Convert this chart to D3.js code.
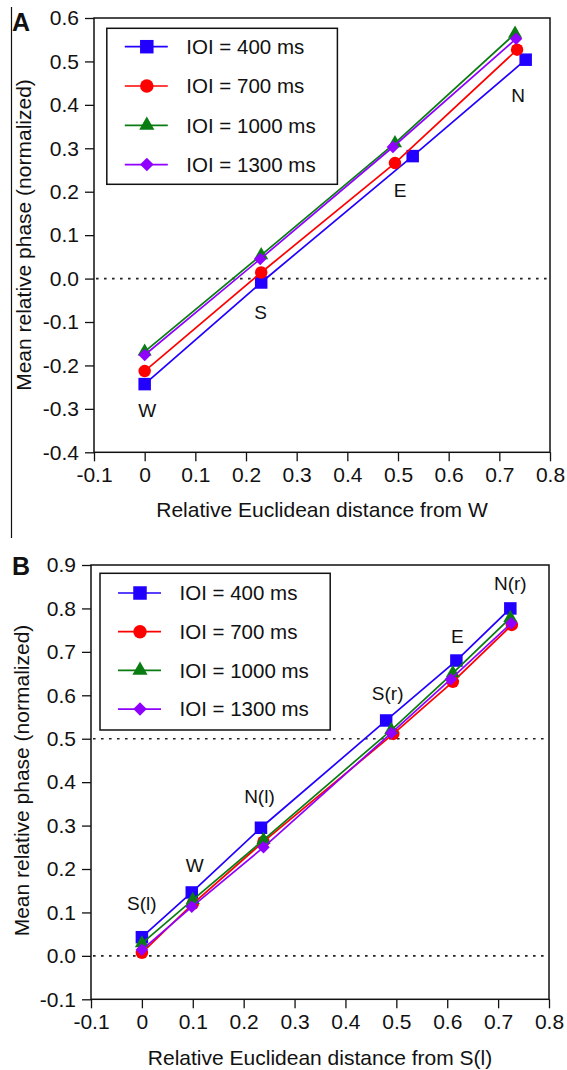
<!DOCTYPE html>
<html lang="en">
<head>
<meta charset="utf-8">
<style>
    body { margin: 0; background: #fff; }
    svg text { font-family: "Liberation Sans", Arial, Helvetica, sans-serif; fill: #111; }
    .frame { fill: none; stroke: #111; stroke-width: 1.5; }
    .tick line { stroke: #111; stroke-width: 1.3; }
    .tick text { font-size: 21px; }
    .ref { stroke: #222; stroke-width: 1.6; stroke-dasharray: 2.6 5.4; }
    .series { fill: none; stroke-width: 1.7; }
</style>
<script src="https://d3js.org/d3.v7.min.js"></script>
</head>
<body>
<script>

    // series shared by both panels
    var seriesNames = ["IOI = 400 ms", "IOI = 700 ms", "IOI = 1000 ms", "IOI = 1300 ms"];
    var seriesColors = ["#2200ff", "#ff0000", "#0a7d12", "#8f00ff"];
    var seriesShapes = ["square", "circle", "triangle", "diamond"];

    var xTicks = [-0.1, 0, 0.1, 0.2, 0.3, 0.4, 0.5, 0.6, 0.7, 0.8];

    // panel A: distance from W
    var aLocations = ["W", "S", "E", "N"];
    var aX400 = [0, 0.230, 0.529, 0.752];
    var aY400 = [-0.243, -0.009, 0.282, 0.504];
    var aX700 = [0, 0.230, 0.494, 0.735];
    var aY700 = [-0.213, 0.014, 0.266, 0.527];
    var aX1000 = [0, 0.230, 0.494, 0.731];
    var aY1000 = [-0.168, 0.054, 0.312, 0.564];
    var aX1300 = [0, 0.228, 0.490, 0.733];
    var aY1300 = [-0.176, 0.045, 0.303, 0.552];
    var aLabelX = [0.005, 0.229, 0.504, 0.737];
    var aLabelY = [-0.302, -0.078, 0.203, 0.422];
    var aYTicks = [-0.4, -0.3, -0.2, -0.1, 0.0, 0.1, 0.2, 0.3, 0.4, 0.5, 0.6];
    var aRefLines = [0];

    // panel B: distance from S(l)
    var bLocations = ["S(l)", "W", "N(l)", "S(r)", "E", "N(r)"];
    var bX400 = [0, 0.098, 0.234, 0.480, 0.618, 0.724];
    var bY400 = [0.043, 0.146, 0.295, 0.542, 0.680, 0.800];
    var bX700 = [0, 0.100, 0.239, 0.494, 0.611, 0.727];
    var bY700 = [0.007, 0.120, 0.263, 0.511, 0.631, 0.762];
    var bX1000 = [0, 0.100, 0.239, 0.490, 0.611, 0.724];
    var bY1000 = [0.029, 0.129, 0.267, 0.520, 0.651, 0.778];
    var bX1300 = [0, 0.098, 0.239, 0.490, 0.607, 0.726];
    var bY1300 = [0.014, 0.113, 0.250, 0.513, 0.637, 0.766];
    var bLabelX = [0.0, 0.104, 0.231, 0.483, 0.620, 0.724];
    var bLabelY = [0.121, 0.209, 0.368, 0.606, 0.737, 0.858];
    var bYTicks = [-0.1, 0.0, 0.1, 0.2, 0.3, 0.4, 0.5, 0.6, 0.7, 0.8, 0.9];
    var bRefLines = [0, 0.5];

    var svg = d3.select("body").append("svg")
        .attr("width", 567)
        .attr("height", 1070);

    // thin rule along the left edge of panel A
    svg.append("line")
        .attr("x1", 11.5).attr("x2", 11.5)
        .attr("y1", 7).attr("y2", 538)
        .attr("stroke", "#111").attr("stroke-width", 1.2);

    function symbolPath(shape, size) {
        if (shape === "square") return d3.symbol().type(d3.symbolSquare).size(size * size)();
        if (shape === "circle") return d3.symbol().type(d3.symbolCircle).size(Math.PI * size * size / 4)();
        if (shape === "triangle") return d3.symbol().type(d3.symbolTriangle).size(size * size * 0.55)();
        return d3.symbol().type(d3.symbolSquare).size(size * size * 0.5)();
    }

    function drawPanel(p) {
        var x = d3.scaleLinear().domain([-0.1, 0.8]).range([p.left, p.right]);
        var y = d3.scaleLinear().domain(p.yDomain).range([p.bottom, p.top]);
        var g = svg.append("g");

        // reference dotted lines
        g.selectAll(".ref").data(p.refLines).enter().append("line")
            .attr("class", "ref")
            .attr("x1", x(-0.1) + 2).attr("x2", x(0.8) - 2)
            .attr("y1", function(d) { return y(d); })
            .attr("y2", function(d) { return y(d); });

        // axes
        g.append("g")
            .attr("transform", "translate(0," + p.bottom + ")")
            .call(d3.axisBottom(x).tickValues(xTicks).tickSize(9).tickPadding(6)
                .tickFormat(function(d) { return d === 0 ? "0" : d.toFixed(1); }))
            .call(function(a) { a.select(".domain").remove(); });

        g.append("g")
            .attr("transform", "translate(" + p.left + ",0)")
            .call(d3.axisLeft(y).tickValues(p.yTicks).tickSize(9).tickPadding(6)
                .tickFormat(function(d) { return d.toFixed(1); }))
            .call(function(a) { a.select(".domain").remove(); });

        g.selectAll(".tick text").attr("fill", "#111");

        // series lines and markers
        p.series.forEach(function(s, i) {
            var pts = s.xs.map(function(v, j) { return [v, s.ys[j]]; });
            g.append("path")
                .attr("class", "series")
                .attr("stroke", seriesColors[i])
                .attr("d", d3.line().x(function(d) { return x(d[0]); }).y(function(d) { return y(d[1]); })(pts));
            g.selectAll(".m" + i).data(pts).enter().append("path")
                .attr("class", "m" + i)
                .attr("fill", seriesColors[i])
                .attr("d", symbolPath(seriesShapes[i], 12.5))
                .attr("transform", function(d) {
                    return "translate(" + x(d[0]) + "," + y(d[1]) + ")" +
                        (seriesShapes[i] === "diamond" ? " rotate(45)" : "");
                });
        });

        // location labels
        g.selectAll(".loc").data(p.locations).enter().append("text")
            .attr("class", "loc")
            .attr("x", function(d, j) { return x(p.labelX[j]); })
            .attr("y", function(d, j) { return y(p.labelY[j]); })
            .attr("dy", "0.36em")
            .attr("text-anchor", "middle")
            .style("font-size", "19px")
            .text(function(d) { return d; });

        // frame
        g.append("rect")
            .attr("class", "frame")
            .attr("x", p.left).attr("y", p.top)
            .attr("width", p.right - p.left).attr("height", p.bottom - p.top);

        // legend
        var lg = g.append("g").attr("transform", "translate(" + p.legendX + "," + p.legendY + ")");
        lg.append("rect")
            .attr("class", "frame")
            .attr("width", p.legendW).attr("height", p.legendH);
        seriesNames.forEach(function(name, i) {
            var row = lg.append("g").attr("transform", "translate(0," + (p.legendFirst + i * p.legendStep) + ")");
            row.append("line")
                .attr("x1", 18).attr("x2", 61)
                .attr("stroke", seriesColors[i]).attr("stroke-width", 1.7);
            row.append("path")
                .attr("fill", seriesColors[i])
                .attr("d", symbolPath(seriesShapes[i], 13.5))
                .attr("transform", "translate(40,0)" + (seriesShapes[i] === "diamond" ? " rotate(45)" : ""));
            row.append("text")
                .attr("x", 79.5).attr("dy", "0.36em")
                .style("font-size", "20.5px")
                .text(name);
        });

        // axis titles
        g.append("text")
            .attr("x", (p.left + p.right) / 2)
            .attr("y", p.xTitleY)
            .attr("text-anchor", "middle")
            .style("font-size", "21px")
            .text(p.xTitle);

        g.append("text")
            .attr("transform", "translate(" + p.yTitleX + "," + p.yTitleMid + ") rotate(-90)")
            .attr("text-anchor", "middle")
            .style("font-size", "21px")
            .text("Mean relative phase (normalized)");

        // panel letter
        g.append("text")
            .attr("x", 12).attr("y", p.letterY)
            .style("font-size", "25px").style("font-weight", "bold")
            .text(p.letter);
    }

    drawPanel({
        letter: "A", letterY: 31,
        left: 94, right: 550, top: 18, bottom: 452.3,
        yDomain: [-0.4, 0.6], yTicks: aYTicks, refLines: aRefLines,
        locations: aLocations, labelX: aLabelX, labelY: aLabelY,
        series: [
            { xs: aX400, ys: aY400 }, { xs: aX700, ys: aY700 },
            { xs: aX1000, ys: aY1000 }, { xs: aX1300, ys: aY1300 }
        ],
        legendX: 106.8, legendY: 28.3, legendW: 230.6, legendH: 156,
        legendFirst: 18.4, legendStep: 39.3,
        xTitle: "Relative Euclidean distance from W", xTitleY: 517,
        yTitleX: 30.5, yTitleMid: 235
    });

    drawPanel({
        letter: "B", letterY: 575,
        left: 91, right: 549, top: 565, bottom: 999.3,
        yDomain: [-0.1, 0.9], yTicks: bYTicks, refLines: bRefLines,
        locations: bLocations, labelX: bLabelX, labelY: bLabelY,
        series: [
            { xs: bX400, ys: bY400 }, { xs: bX700, ys: bY700 },
            { xs: bX1000, ys: bY1000 }, { xs: bX1300, ys: bY1300 }
        ],
        legendX: 100, legendY: 573.3, legendW: 230.2, legendH: 156.7,
        legendFirst: 19.7, legendStep: 38.7,
        xTitle: "Relative Euclidean distance from S(l)", xTitleY: 1065,
        yTitleX: 29, yTitleMid: 780.5
    });
</script>
</body>
</html>
